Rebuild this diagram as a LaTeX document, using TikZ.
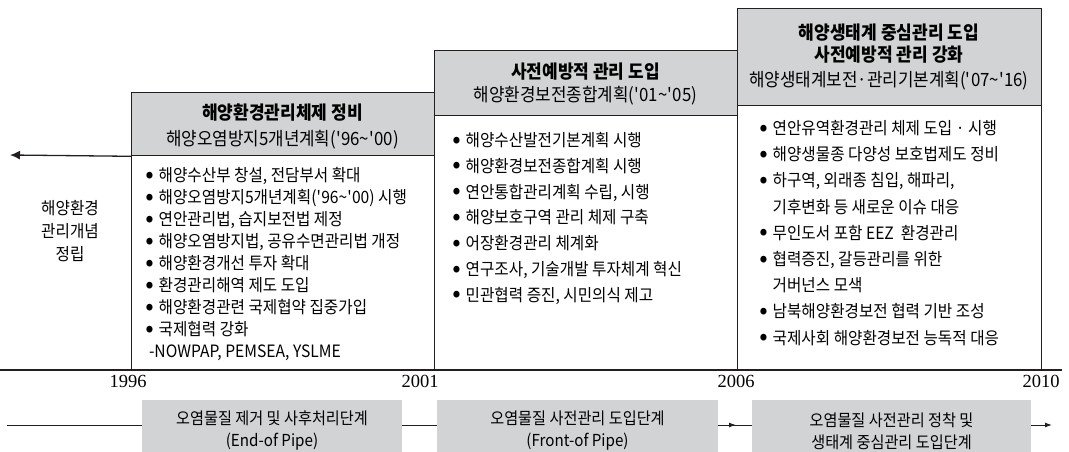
\documentclass[tikz,border=0pt]{standalone}
\usepackage{fontspec}
\setmainfont{Noto Sans CJK KR}[FakeStretch=0.92]
\newfontfamily\yrfont{Liberation Serif}
\usetikzlibrary{arrows.meta}
\definecolor{lc}{HTML}{231F20}
\definecolor{hg}{HTML}{D1D3D4}
\newcommand\ap{\textquotesingle}
\newcommand\tld{\textasciitilde}
\newcommand\bul{\makebox[12.5pt][l]{\raisebox{3.4pt}{\fontsize{7.5}{7.5}\selectfont ●}}}
\newcommand\ind{\hspace{12.5pt}}
\begin{document}
\begin{tikzpicture}[x=1pt,y=-1pt,
  frame/.style={draw=lc,line width=1.3pt,inner sep=0pt,anchor=north west},
  head/.style={frame,fill=hg},
  ttl/.style={font=\fontsize{18.5}{21}\selectfont\bfseries,inner sep=0pt,anchor=base},
  sub/.style={font=\fontsize{18.3}{21}\selectfont,inner sep=0pt,anchor=base},
  item/.style={font=\fontsize{17}{20}\selectfont,inner sep=0pt,anchor=base west},
  yr/.style={font=\yrfont\fontsize{18.5}{20}\selectfont,inner sep=0pt},
  phase/.style={fill=hg,inner sep=0pt,minimum height=62pt,align=center,font=\fontsize{16.5}{22}\selectfont},
  tline/.style={draw=lc,line width=1.3pt},
  thin/.style={draw=lc,line width=1pt}]
\useasboundingbox (0,0) rectangle (1069,452);
\begin{scope}
\clip (0,0) rectangle (1069,452);
% period boxes
\node[frame,minimum width=303pt,minimum height=278pt] (box1) at (131,92) {};
\node[frame,minimum width=303pt,minimum height=320pt] (box2) at (434,50) {};
\node[frame,minimum width=304pt,minimum height=362pt] (box3) at (737,8) {};
\node[head,minimum width=303pt,minimum height=63pt] (hdr1) at (131,92) {};
\node[head,minimum width=303pt,minimum height=65pt] (hdr2) at (434,50) {};
\node[head,minimum width=304pt,minimum height=97pt] (hdr3) at (737,8) {};
% header texts
\node[ttl] (t1a) at (282.5,120) {해양환경관리체제 정비};
\node[sub] (t1b) at (282.5,145) {해양오염방지5개년계획(\ap96\tld\ap00)};
\node[ttl] (t2a) at (585.5,79) {사전예방적 관리 도입};
\node[sub] (t2b) at (585.5,102) {해양환경보전종합계획(\ap01\tld\ap05)};
\node[ttl] (t3a) at (889,40) {해양생태계 중심관리 도입};
\node[ttl] (t3b) at (889,62) {사전예방적 관리 강화};
\node[sub] (t3c) at (889,87) {해양생태계보전·관리기본계획(\ap07\tld\ap16)};
% box 1 items
\foreach \t [count=\i] in {
  {\bul 해양수산부 창설, 전담부서 확대},
  {\bul 해양오염방지5개년계획(\ap96\tld\ap00) 시행},
  {\bul 연안관리법, 습지보전법 제정},
  {\bul 해양오염방지법, 공유수면관리법 개정},
  {\bul 해양환경개선 투자 확대},
  {\bul 환경관리해역 제도 도입},
  {\bul 해양환경관련 국제협약 집중가입},
  {\bul 국제협력 강화},
  {\,-NOWPAP, PEMSEA, YSLME}}
  \node[item] (a\i) at (146,{181.5+22*(\i-1)}) {\t};
% box 2 items
\foreach \t [count=\i] in {
  {\bul 해양수산발전기본계획 시행},
  {\bul 해양환경보전종합계획 시행},
  {\bul 연안통합관리계획 수립, 시행},
  {\bul 해양보호구역 관리 체제 구축},
  {\bul 어장환경관리 체계화},
  {\bul 연구조사, 기술개발 투자체계 혁신},
  {\bul 민관협력 증진, 시민의식 제고}}
  \node[item] (b\i) at (453,{146.5+25.8*(\i-1)}) {\t};
% box 3 items
\foreach \t [count=\i] in {
  {\bul 연안유역환경관리 체제 도입 · 시행},
  {\bul 해양생물종 다양성 보호법제도 정비},
  {\bul 하구역, 외래종 침입, 해파리,},
  {\ind 기후변화 등 새로운 이슈 대응},
  {\bul 무인도서 포함 EEZ \ 환경관리},
  {\bul 협력증진, 갈등관리를 위한},
  {\ind 거버넌스 모색},
  {\bul 남북해양환경보전 협력 기반 조성},
  {\bul 국제사회 해양환경보전 능독적 대응}}
  \node[item] (c\i) at (760,{134.5+26.2*(\i-1)}) {\t};
% left concept and arrow
\coordinate (arrEnd) at (10,155);
\draw[tline,-{Latex[length=10pt,width=9pt]}] (hdr1.south west) -- (arrEnd);
\node[font=\fontsize{17}{23}\selectfont,align=center,inner sep=0pt] (concept) at (70,231) {해양환경\\관리개념\\정립};
% timeline
\coordinate (tlL) at (0,370);
\coordinate (tlR) at (1062,370);
\draw[tline] (tlL) -- (tlR);
\node[yr] (y1) at (128,381) {1996};
\node[yr] (y2) at (420,381) {2001};
\node[yr] (y3) at (736,381) {2006};
\node[yr] (y4) at (1041,381) {2010};
% phases
\node[phase,minimum width=260pt] (p1) at (272,431) {오염물질 제거 및 사후처리단계\\(End-of Pipe)};
\node[phase,minimum width=281pt] (p2) at (577.5,431) {오염물질 사전관리 도입단계\\(Front-of Pipe)};
\node[phase,minimum width=279pt] (p3) at (891.5,431) {오염물질 사전관리 정착 및\\생태계 중심관리 도입단계};
\coordinate (bl) at (7,425);
\coordinate (midarr) at (736,425);
\coordinate (br) at (1052,425);
\draw[thin] (bl) -- (bl -| p1.west);
\draw[thin] (bl -| p1.east) -- (bl -| p2.west);
\draw[thin] (bl -| p2.east) -- (bl -| p3.west);
\draw[thin,-{Latex[length=7pt,width=5pt]}] (bl -| p2.east) -- (midarr);
\draw[thin,-{Latex[length=7pt,width=5pt]}] (bl -| p3.east) -- (br);
\end{scope}
\end{tikzpicture}
\end{document}
